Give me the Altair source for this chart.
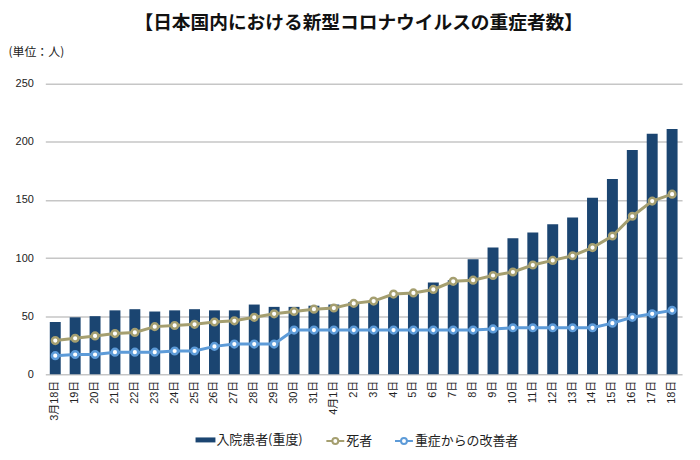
import altair as alt
import pandas as pd

days = ["3月18日", "19日", "20日", "21日", "22日", "23日", "24日", "25日", "26日", "27日",
        "28日", "29日", "30日", "31日", "4月1日", "2日", "3日", "4日", "5日", "6日", "7日",
        "8日", "9日", "10日", "11日", "12日", "13日", "14日", "15日", "16日", "17日", "18日"]
inpatients = [45, 49, 50, 55, 56, 54, 55, 56, 55, 55, 60, 58, 58, 59, 60, 62, 63, 68, 69,
              79, 81, 99, 109, 117, 122, 129, 135, 152, 168, 193, 207, 211]
deaths = [29, 31, 33, 35, 36, 41, 42, 43, 45, 46, 49, 52, 54, 56, 57, 61, 63, 69, 70, 73,
          80, 81, 85, 88, 94, 98, 102, 109, 119, 136, 149, 155]
improved = [16, 17, 17, 19, 19, 19, 20, 20, 24, 26, 26, 26, 38, 38, 38, 38, 38, 38, 38, 38,
            38, 38, 39, 40, 40, 40, 40, 40, 44, 49, 52, 55]

S1, S2, S3 = "入院患者(重度)", "死者", "重症からの改善者"
NAVY, OLIVE, BLUE = "#1b4571", "#a59f70", "#5d9bd8"
TITLE = "【日本国内における新型コロナウイルスの重症者数】"
UNIT = "(単位：人)"

FONT = "Liberation Sans, 'Noto Sans CJK JP', sans-serif"
CJK = "'Noto Sans CJK JP', sans-serif"

bars_df = pd.DataFrame({"day": days, "value": inpatients, "series": S1})
lines_df = pd.concat([
    pd.DataFrame({"day": days, "value": deaths, "series": S2}),
    pd.DataFrame({"day": days, "value": improved, "series": S3}),
])

xscale = alt.Scale(paddingInner=0.45, paddingOuter=0.225)
x = alt.X("day:N", sort=days, scale=xscale,
          axis=alt.Axis(title=None, labelAngle=-90, labelFontSize=11, labelPadding=6,
                        ticks=False, domain=False, grid=False, labelColor="#222222",
                        labelFont=FONT))
y = alt.Y("value:Q", scale=alt.Scale(domain=[0, 250]),
          axis=alt.Axis(title=None, values=[0, 50, 100, 150, 200, 250], grid=True,
                        gridColor="#c6c6c6", gridWidth=1.5, domain=False, ticks=False,
                        labelPadding=12, labelFontSize=11, labelColor="#222222",
                        labelFont=FONT))

RECT_PATH = "M-1,-0.25L1,-0.25L1,0.25L-1,0.25Z"
LC_PATH = ("M-1,0L-0.33,0M0.33,0A0.33,0.33 0 1 1 -0.33,0A0.33,0.33 0 1 1 0.33,0"
           "M0.33,0L1,0")

bar_legend = alt.Legend(title=None, orient="none", legendX=151, legendY=348,
                        direction="horizontal", symbolType=RECT_PATH, symbolSize=400,
                        symbolStrokeWidth=0, labelOffset=1, padding=0,
                        labelFontSize=13, labelFont=CJK, labelColor="#222222")
line_legend = alt.Legend(title=None, orient="none", legendX=281.5, legendY=349,
                         direction="horizontal", symbolType=LC_PATH, symbolSize=324,
                         symbolStrokeWidth=2, labelOffset=1, padding=0, columnPadding=18,
                         labelFontSize=13, labelFont=CJK, labelColor="#222222")

bars = alt.Chart(bars_df).mark_bar().encode(
    x=x, y=y,
    fill=alt.Fill("series:N", scale=alt.Scale(domain=[S1], range=[NAVY]), legend=bar_legend),
)

color = alt.Color("series:N", scale=alt.Scale(domain=[S2, S3], range=[OLIVE, BLUE]),
                  legend=line_legend)

lines = alt.Chart(lines_df).mark_line(strokeWidth=3).encode(x=x, y=y, color=color)
points = alt.Chart(lines_df).mark_point(filled=False, fill="white", size=45,
                                        strokeWidth=2.5, opacity=1).encode(
    x=x, y=y, color=color)

title = alt.Chart(pd.DataFrame({"t": [TITLE]})).mark_text(
    font=CJK, fontSize=18.8, fontWeight="bold", align="center", baseline="middle",
    color="#111111").encode(x=alt.value(315), y=alt.value(-61), text="t:N")
unit = alt.Chart(pd.DataFrame({"t": [UNIT]})).mark_text(
    font=CJK, fontSize=12, align="left", baseline="middle",
    color="#222222").encode(x=alt.value(-37), y=alt.value(-31.5), text="t:N")

chart = alt.layer(bars, lines, points, title, unit).properties(
    width=640, height=292,
    autosize=alt.AutoSizeParams(type="none"),
    padding={"left": 37.5, "top": 75, "right": 10, "bottom": 80},
).configure_view(strokeWidth=0)

chart.save("out.html", embed_options={"renderer": "svg", "actions": False})
